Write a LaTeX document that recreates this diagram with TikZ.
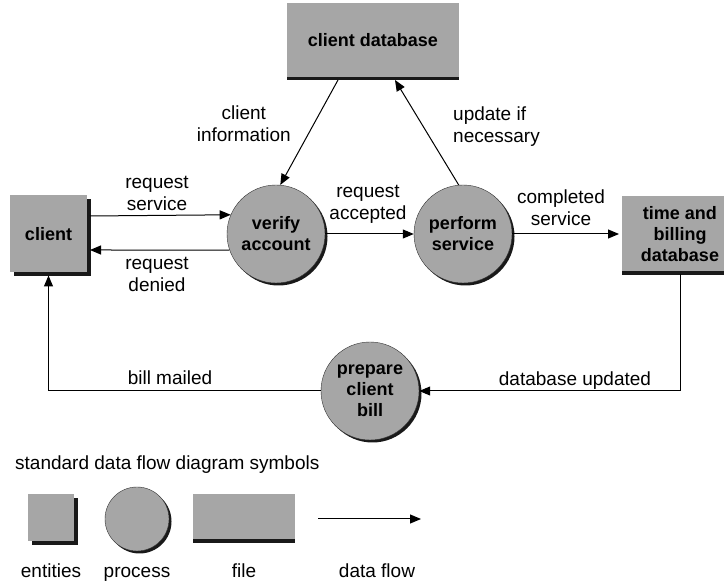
\documentclass[tikz,border=0pt]{standalone}
\usepackage{fontspec}
\setmainfont{Liberation Sans}
\usetikzlibrary{arrows.meta,positioning,shadows}

\begin{document}
\begin{tikzpicture}[
  x=1pt, y=-1pt,
  lbl/.style={font=\fontsize{19}{22}\selectfont, align=center, inner sep=1pt},
  entity/.style={fill=gray!70, outer sep=3pt, align=center, font=\bfseries\fontsize{18}{21}\selectfont,
    drop shadow={shadow xshift=3.5pt, shadow yshift=-3.5pt, opacity=1, fill=black!90}},
  process/.style={circle, fill=gray!70, draw=black!80, minimum size=98pt, inner sep=0pt, align=center,
    font=\bfseries\fontsize{18}{21}\selectfont,
    drop shadow={shadow xshift=2.5pt, shadow yshift=-2.5pt, opacity=1, fill=black!90}},
  datafile/.style={fill=gray!70, outer sep=3pt, align=center, font=\bfseries\fontsize{18}{21}\selectfont,
    drop shadow={shadow xshift=0pt, shadow yshift=-3.5pt, opacity=1, fill=black!90}},
  flow/.style={-{Triangle[length=11pt,width=9pt]}, line width=1pt}
]
\useasboundingbox (0,0) rectangle (724,585);
\clip (0,0) rectangle (724,585);
% main diagram
\node[entity, minimum width=77pt, minimum height=77pt] (client) at (48.5,234) {client};
\node[datafile, minimum width=172pt, minimum height=74pt] (clientdb) at (373,40) {client database};
\node[process] (verify) at (276,234) {verify\\account};
\node[process] (perform) at (463,234) {perform\\service};
\node[datafile, minimum width=116pt, minimum height=75pt] (billing) at (680,234) {time and\\billing\\database};
\node[process] (prepare) at (370,391) {prepare\\client\\bill};

\node[lbl, anchor=east] (lblinfo) at (292,124) {client\\information};
\node[lbl, anchor=west, align=left] (lblupdate) at (452,127) {update if\\necessary};
\node[lbl] (lblservice) at (157,193) {request\\service};
\node[lbl] (lbldenied) at (157,274) {request\\denied};
\node[lbl] (lblaccepted) at (368,204) {request\\accepted};
\node[lbl] (lblcompleted) at (561,208) {completed\\service};
\node[lbl] (lblmailed) at (170,378) {bill mailed};
\node[lbl] (lblupdated) at (575,381) {database updated};

\draw[flow] ([yshift=18pt]client.east) -- (verify.157);
\draw[flow] (verify.199) -- ([yshift=-16pt]client.east);
\draw[flow] (verify) -- (perform);
\draw[flow] (perform) -- (billing);
\draw[flow] ([xshift=-35pt]clientdb.south) -- (verify.85);
\draw[flow] (perform.95) -- ([xshift=22pt]clientdb.south);
\draw[flow] (billing.south) |- (prepare.east);
\draw[flow] (prepare.west) -| (client.south);

% legend
\node[lbl, anchor=west] (legtitle) at (14,465) {standard data flow diagram symbols};
\node[entity, minimum width=46pt, minimum height=47pt] (legentity) at (51,518) {};
\node[process, minimum size=64pt] (legprocess) at (137,519) {};
\node[datafile, minimum width=102pt, minimum height=45pt] (legfile) at (244,517) {};
\coordinate (flowstart) at (318,519);
\coordinate (flowend) at (421,519);
\draw[flow] (flowstart) -- (flowend);

\node[lbl, anchor=base] (lblentities) at (legentity.center |- 0,578) {entities};
\node[lbl, anchor=base] (lblprocess) at (legprocess.center |- 0,578) {process};
\node[lbl, anchor=base] (lblfile) at (legfile.center |- 0,578) {file};
\node[lbl, anchor=base] (lbldataflow) at (377,578) {data flow};
\end{tikzpicture}
\end{document}
